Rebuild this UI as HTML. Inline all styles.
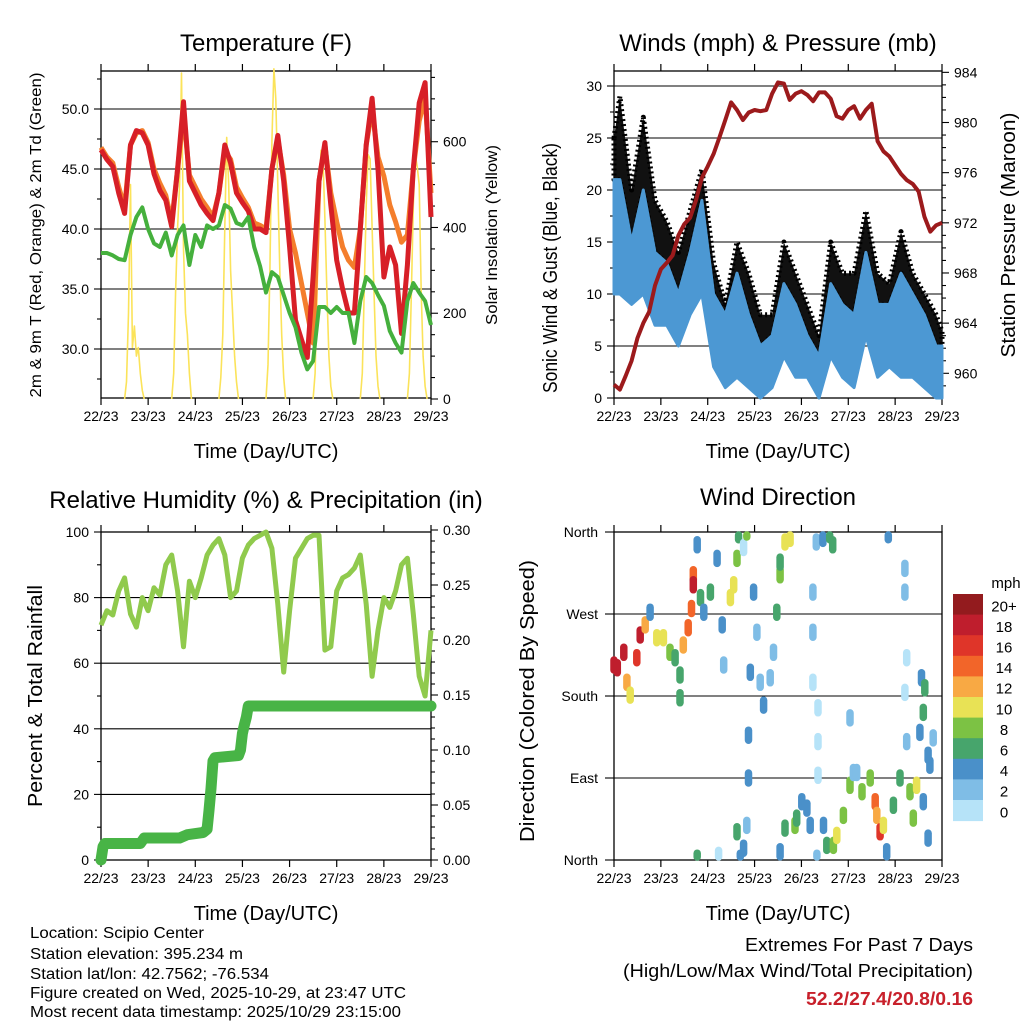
<!DOCTYPE html>
<html><head><meta charset="utf-8">
<style>
html,body{margin:0;padding:0;background:#fff;}
svg{display:block;font-family:"Liberation Sans",Arial,sans-serif;}
</style></head>
<body>
<svg id="c" width="1024" height="1024" viewBox="0 0 1024 1024" xmlns="http://www.w3.org/2000/svg">
<rect width="1024" height="1024" fill="#fff"/>
</svg>
<script>
// ---------- DATA (3-hourly samples, hour 0 = 22/23 UTC) ----------
const dayLabels = ["22/23","23/23","24/23","25/23","26/23","27/23","28/23","29/23"];
const tempRed = [46.6,45.8,45.2,43,41.3,47,48.2,48,47,44.6,43.2,42.4,40.2,45,50.6,44,43,42,41.3,40.7,43,47,45.5,43,42.2,41.5,40,40,39.7,45,47.8,44,38.5,32.4,30.8,29.3,36,44,47.2,42,37.4,35,33,33,40,47,50.9,45,36,38.5,37,31.3,37,45,50.5,52.2,41];
const tempOrange = [46.8,46,45.5,43.5,41.8,47,48,48.2,47.2,45,43.8,42.8,40.6,45,49.5,44.5,43.5,42.5,41.8,41,43,46.5,45.8,43.5,42.6,41.8,40.5,40.3,40,45,47.5,44.5,40,38,35.5,33,30.5,44,47,43,40.6,38.5,37.4,36.8,40,47,50,46,44.4,42,40.6,38.9,39.5,45,49,51,43];
const dewGreen = [38,38,37.8,37.5,37.4,39.5,41,41.8,40,38.8,38.5,39.7,37.8,39.5,40.3,37,39.5,38.5,40.3,40,40.3,42,41.7,40.5,40.3,41,38.5,36.9,34.7,36.4,36,34.5,33,31.8,29.7,28.3,29,33.5,33.5,33,33.5,33,33,30.5,34,36,35.5,34.5,33.6,31.5,30.5,29.7,34,35.5,34.7,34,32];
const solarDay0 = [0,40,200,500,120,170,100,120,60,20,0];
const solarDay1 = [0,60,250,400,500,760,350,200,150,60,0];
const solarDay2 = [0,50,150,400,610,500,300,200,100,40,0];
const solarDay3 = [0,80,300,600,770,700,500,300,150,50,0];
const solarDay4 = [0,60,250,450,580,560,420,250,100,30,0];
const solarDay5 = [0,60,250,450,570,560,400,250,100,30,0];
const solarDay6 = [0,60,250,450,570,540,500,250,100,30,0];
const pressure = [959.1,958.7,959.8,961,962.8,964,964.9,967,968.3,968.8,969.4,971,971.9,972.4,973.8,975.6,976.5,977.5,978.8,980.2,981.6,981,980.2,980.8,981,980.9,981,982.3,983.2,983.1,981.8,982.3,982.5,982.2,981.7,982.4,982.4,981.9,980.5,980.3,981,981.3,980.3,981,981.5,978.5,977.7,977.3,976.6,975.9,975.4,975.1,974.5,972.5,971.3,971.8,972];
const windLo = [10,9,10,7,7,5,8,10,3,1,2,1,0,1,4,2,2,0,4,2,1,6,2,3,2,2,1,0];
const windHi = [21,15,20,14,13,10,14,19,10,8,12,8,5,6,11,9,6,4,11,9,8,14,9,9,12,10,8,5];
const gustHi = [29,20,27,19,17,14,18,22,13,9,15,12,8,8,15,12,9,6,15,12,12,18,12,11,16,12,10,8];
const rh = [71.6,76,74.7,82,86,75,71,80,76,83,80.8,90,93,82,65,85,80,86,93,96,98,93,80,82,92,96,98,99,100,95,78,57.3,76,92,95,98,99,99,64,65,82,86,87,89,93,78,56,70,80,77,82,90,92,75,56,50,70];
const rainHours = [0,1,2,20,22,40,44,52,54,55,56,57,58,70,71,72,73,74,75,76,168];
const rainTotal = [0,0.012,0.015,0.015,0.02,0.02,0.023,0.025,0.028,0.045,0.065,0.09,0.093,0.095,0.1,0.115,0.123,0.13,0.14,0.14,0.14];
const dirHours = [0,1.7,5,6.6,8.3,11.7,13.4,16,18.5,21.9,25.3,28.7,31.3,33.8,33.8,35.5,38,39.7,40.6,40.6,42.6,44.3,46,49.4,52.8,55.4,56.2,59.6,61.3,63,63.8,66.4,68,71.5,73.2,69.8,74.9,76.6,80,81.7,83.4,85.1,87.6,90.2,85.1,68.9,68.9,68,66.4,64.7,63,53.6,42.6,103.6,101.9,101.9,101.9,104.5,104.5,104.5,107,110.5,112,85.1,87.6,92.7,93.6,96.2,98.8,100.5,103.9,107.3,109,112.4,114.1,117.5,120.9,122.6,124.3,120.9,127,131.2,133.8,134.6,136.3,138,139.7,140.5,143.1,146.5,149,149,149.9,149,149.9,151.6,153.3,155,156.7,158.4,157.5,159.2,160.9,161.8,163.5,160.9,158.4];
const dirDeg = [214,211,228,195,181,222,247,258,272,244,244,228,222,203,178,236,255,276,313,302,346,288,272,294,331,258,214,288,302,331,357,343,360,294,250,206,195,170,200,228,272,313,349,353,327,137,90,38,13,2,31,5,2,349,294,250,195,167,130,93,353,357,346,9,35,38,46,64,57,38,2,38,16,16,27,49,82,96,96,156,75,90,64,49,31,38,9,357,60,90,320,294,222,184,130,75,46,82,140,162,200,189,115,104,134,24,64];
const dirSpeed = [18,19,18,12,11,16,18,13,4,10,10,8,6,6,6,12,14,14,14,18,4,6,4,6,4,4,2,10,10,8,6,0,8,4,2,4,2,4,2,2,6,8,10,10,6,4,4,2,4,4,6,0,6,2,2,2,0,0,0,0,4,6,6,4,6,8,6,4,4,4,2,4,6,8,10,8,8,2,2,2,8,8,14,12,16,10,4,4,6,6,2,2,0,0,2,8,8,10,4,6,4,6,4,4,2,4,4];
const speedColors = ["#b6e3f8","#7fbde6","#4a90c9","#47a56c","#7cc244","#e8e255","#f8a944","#f26529","#df3529","#bf1e2d","#931b1e"];
const speedLabels = ["0","2","4","6","8","10","12","14","16","18","20+"];

const svg = document.getElementById('c');
const NS = "http://www.w3.org/2000/svg";
function mk(tag, attrs, parent){ const e=document.createElementNS(NS,tag); for(const k in attrs) e.setAttribute(k,attrs[k]); (parent||svg).appendChild(e); return e; }
function txt(s, x, y, size, anchor, parent, extra){ const t=mk('text',Object.assign({x:x,y:y,'font-size':size,'text-anchor':anchor||'middle',fill:'#000'},extra||{}),parent); t.textContent=s; return t; }

const P = {
  temp:{x0:101,x1:431,y0:71,y1:398},
  wind:{x0:614,x1:942,y0:71,y1:398},
  rh:{x0:101,x1:431,y0:532,y1:860},
  dir:{x0:614,x1:942,y0:532,y1:860}
};
function xs(p){ return h => p.x0 + h*(p.x1-p.x0)/168; }
const xT = xs(P.temp), xW = xs(P.wind), xH = xs(P.rh), xD = xs(P.dir);
const yT = v => 349 - (v-30)*12;
const yS = v => 399 - v*0.4288;
const yW = v => 398 - v*10.4;
const yP = p => 373.3 - (p-960)*12.54;
const yH = v => 860 - v*3.28;
const yR = v => 860 - v*1100;
const yD = d => 860 - d*0.9111;

function frame(p, name){
  const g = mk('g',{});
  
  
  for(let d=0; d<=7; d++){
    const x = p.x0 + d*(p.x1-p.x0)/7;
    mk('line',{x1:x,x2:x,y1:p.y1,y2:p.y1+7,stroke:'#000','stroke-width':1.2},g);
    mk('line',{x1:x,x2:x,y1:p.y0,y2:p.y0-7,stroke:'#000','stroke-width':1.2},g);
    const t = txt(dayLabels[d], x, p.y1+23, 14, 'middle', g);
    
    
  }
  const xt = txt('Time (Day/UTC)', (p.x0+p.x1)/2, p.y1+60, 20, 'middle', g);
  
  
  return g;
}
function box(p, g){ mk('rect',{x:p.x0,y:p.y0,width:p.x1-p.x0,height:p.y1-p.y0,fill:'none',stroke:'#000','stroke-width':1.3},g); }
function hgrid(p, y, g){ mk('line',{x1:p.x0,x2:p.x1,y1:y,y2:y,stroke:'#000','stroke-width':1.1},g); }
function ltick(p, y, len, g){ mk('line',{x1:p.x0-len,x2:p.x0,y1:y,y2:y,stroke:'#000','stroke-width':1.1},g); }
function rtick(p, y, len, g){ mk('line',{x1:p.x1,x2:p.x1+len,y1:y,y2:y,stroke:'#000','stroke-width':1.1},g); }
function pathFrom(xsArr, ysArr){ let d=''; for(let i=0;i<xsArr.length;i++){ d += (i?'L':'M')+xsArr[i].toFixed(1)+' '+ysArr[i].toFixed(1); } return d; }
function rotLabel(s, x, y, size, len, name){
  const t = txt(s, 0, 0, size, 'middle', svg, {transform:`translate(${x},${y}) rotate(-90)`, textLength:len, lengthAdjust:'spacingAndGlyphs'});
  
  
}
function title(s, x, y, name){
  const t = txt(s, x, y, 24, 'middle');
  
  
}

// ================= TEMPERATURE =================
(function(){
  const p = P.temp;
  const g = frame(p,'temperature');
  [30,35,40,45,50].forEach(v=>{ hgrid(p,yT(v),g); ltick(p,yT(v),7,g); const t=txt(v.toFixed(1),p.x0-12,yT(v)+5,14,'end',g);   });
  for(let v=27.5; v<=52.5; v+=5){ ltick(p,yT(v),4,g); }
  [0,200,400,600].forEach(v=>{ rtick(p,yS(v),7,g); const t=txt(String(v),p.x1+12,yS(v)+5,14,'start',g);   });
  for(let v=50; v<=750; v+=50){ if(v%200) rtick(p,yS(v),4,g); }
  const solarDays=[solarDay0,solarDay1,solarDay2,solarDay3,solarDay4,solarDay5,solarDay6];
  solarDays.forEach((arr,d)=>{
    const xa=arr.map((v,i)=>xT(d*24+12+i)), ya=arr.map(v=>yS(v));
    const s=mk('path',{d:pathFrom(xa,ya),fill:'none',stroke:'#fbe35a','stroke-width':1.6,'stroke-linejoin':'round'});
    
    
  });
  const xa = tempRed.map((v,i)=>xT(i*3));
  const o=mk('path',{d:pathFrom(xa,tempOrange.map(yT)),fill:'none',stroke:'#f47e2c','stroke-width':5,'stroke-linejoin':'round'});
  
  
  const r=mk('path',{d:pathFrom(xa,tempRed.map(yT)),fill:'none',stroke:'#d71f27','stroke-width':5,'stroke-linejoin':'round'});
  
  
  const gr=mk('path',{d:pathFrom(xa,dewGreen.map(yT)),fill:'none',stroke:'#45b03d','stroke-width':4,'stroke-linejoin':'round'});
  
  
  box(p,g);
  title('Temperature (F)',266,51,'temperature-title');
  rotLabel('2m & 9m T (Red, Orange) & 2m Td (Green)',41,235,16,325,'temperature-y-axis-title');
  rotLabel('Solar Insolation (Yellow)',497,235,16,180,'solar-y-axis-title');
})();

// ================= WINDS =================
(function(){
  const p = P.wind;
  const g = frame(p,'winds');
  [0,5,10,15,20,25,30].forEach(v=>{ if(v>0) hgrid(p,yW(v),g); ltick(p,yW(v),7,g); const t=txt(String(v),p.x0-12,yW(v)+5,14,'end',g);   });
  for(let v=2.5; v<=30; v+=5){ ltick(p,yW(v),4,g); }
  [960,964,968,972,976,980,984].forEach(v=>{ rtick(p,yP(v),7,g); const t=txt(String(v),p.x1+12,yP(v)+5,14,'start',g);   });
  for(let v=959; v<=984; v++){ if(v%4) rtick(p,yP(v),4,g); }
  const n = windLo.length;
  const xc = i => xW(i*6+3);
  let d='M'+xW(0)+' '+yW((gustHi[0]+windHi[0])/2);
  for(let i=0;i<n;i++) d+='L'+xc(i).toFixed(1)+' '+yW(gustHi[i]).toFixed(1);
  d+='L'+xW(168)+' '+yW(gustHi[n-1]*0.8);
  d+='L'+xW(168)+' '+yW(windHi[n-1]);
  for(let i=n-1;i>=0;i--) d+='L'+xc(i).toFixed(1)+' '+yW(windHi[i]).toFixed(1);
  d+='L'+xW(0)+' '+yW(windHi[0])+'Z';
  const gb=mk('path',{d:d,fill:'#111',stroke:'#000','stroke-width':5,'stroke-linejoin':'round','stroke-dasharray':'2 3'});
  
  
  let d2='M'+xW(0)+' '+yW(windHi[0]);
  for(let i=0;i<n;i++) d2+='L'+xc(i).toFixed(1)+' '+yW(windHi[i]).toFixed(1);
  d2+='L'+xW(168)+' '+yW(windHi[n-1]);
  d2+='L'+xW(168)+' '+yW(windLo[n-1]);
  for(let i=n-1;i>=0;i--) d2+='L'+xc(i).toFixed(1)+' '+yW(windLo[i]).toFixed(1);
  d2+='L'+xW(0)+' '+yW(windLo[0])+'Z';
  const wb=mk('path',{d:d2,fill:'#4c98d3',stroke:'#4c98d3','stroke-width':3,'stroke-linejoin':'round'});
  
  
  const pl=mk('path',{d:pathFrom(pressure.map((v,i)=>xW(i*3)),pressure.map(yP)),fill:'none',stroke:'#9c1a1c','stroke-width':4,'stroke-linejoin':'round'});
  
  
  box(p,g);
  title('Winds (mph) & Pressure (mb)',778,51,'winds-title');
  rotLabel('Sonic Wind & Gust (Blue, Black)',557,268,20,250,'wind-y-axis-title');
  rotLabel('Station Pressure (Maroon)',1015,235,20,245,'pressure-y-axis-title');
})();

// ================= RH & PRECIP =================
(function(){
  const p = P.rh;
  const g = frame(p,'humidity');
  [0,20,40,60,80,100].forEach(v=>{ if(v>0&&v<100) hgrid(p,yH(v),g); ltick(p,yH(v),7,g); const t=txt(String(v),p.x0-12,yH(v)+5,14,'end',g);   });
  for(let v=10; v<=90; v+=20){ ltick(p,yH(v),4,g); }
  [0,0.05,0.10,0.15,0.20,0.25,0.30].forEach(v=>{ rtick(p,yR(v),7,g); const t=txt(v.toFixed(2),p.x1+12,yR(v)+5,14,'start',g);   });
  for(let v=0.01; v<0.3; v+=0.01){ if(Math.round(v*100)%5) rtick(p,yR(v),4,g); }
  const rl=mk('path',{d:pathFrom(rh.map((v,i)=>xH(i*3)),rh.map(yH)),fill:'none',stroke:'#90ca4d','stroke-width':5,'stroke-linejoin':'round'});
  
  
  const rn=mk('path',{d:pathFrom(rainHours.map(xH),rainTotal.map(yR)),fill:'none',stroke:'#48b446','stroke-width':11,'stroke-linejoin':'round','stroke-linecap':'round'});
  
  
  box(p,g);
  title('Relative Humidity (%) & Precipitation (in)',266,508,'humidity-title');
  rotLabel('Percent & Total Rainfall',42,696,20,222,'humidity-y-axis-title');
})();

// ================= WIND DIRECTION =================
(function(){
  const p = P.dir;
  const g = frame(p,'direction');
  const dirNames=["North","East","South","West","North"];
  [0,90,180,270,360].forEach((v,i)=>{ if(v>0&&v<360) hgrid(p,yD(v),g); ltick(p,yD(v),9,g); const t=txt(dirNames[i],p.x0-16,yD(v)+5,14,'end',g);   });
  dirHours.forEach((h,i)=>{
    const cx=xD(h), cy=yD(dirDeg[i]);
    const c=mk('line',{x1:cx.toFixed(1),x2:cx.toFixed(1),y1:Math.max(p.y0+3,cy-5).toFixed(1),y2:Math.min(p.y1-3,cy+5).toFixed(1),stroke:speedColors[Math.min(10,Math.floor(dirSpeed[i]/2))],'stroke-width':7.5,'stroke-linecap':'round'});
    
    
  });
  box(p,g);
  title('Wind Direction',778,505,'direction-title');
  rotLabel('Direction (Colored By Speed)',534,701,20,282,'direction-y-axis-title');
  const cb = mk('g',{});
  
  
  const top=594, h=20.6;
  for(let i=0;i<11;i++){
    const k=10-i;
    mk('rect',{x:953,y:top+i*h,width:30,height:h+0.5,fill:speedColors[k]},cb);
    const t=txt(speedLabels[k],1004,top+i*h+h/2+7,15,'middle',cb);
    
    
  }
  const u=txt('mph',1006,588,15,'middle',cb);
  
  
})();

// ================= FOOTER TEXT =================
(function(){
  const lines=[["Location: Scipio Center",938,174],["Station elevation: 395.234 m",959,213],["Station lat/lon: 42.7562; -76.534",979,239],["Figure created on Wed, 2025-10-29, at 23:47 UTC",998,376],["Most recent data timestamp: 2025/10/29 23:15:00",1017,371]];
  lines.forEach(l=>{ const t=txt(l[0],30,l[1],15.5,'start',svg,{textLength:l[2],lengthAdjust:'spacingAndGlyphs'});   });
  let t=txt('Extremes For Past 7 Days',973,951,18,'end',svg,{textLength:228,lengthAdjust:'spacingAndGlyphs'});
  
  
  t=txt('(High/Low/Max Wind/Total Precipitation)',973,977,18,'end',svg,{textLength:350,lengthAdjust:'spacingAndGlyphs'});
  
  
  t=txt('52.2/27.4/20.8/0.16',973,1005,18,'end',svg,{textLength:167,lengthAdjust:'spacingAndGlyphs',fill:'#c8202b','font-weight':'bold'});
  
  
})();
</script>
</body></html>
